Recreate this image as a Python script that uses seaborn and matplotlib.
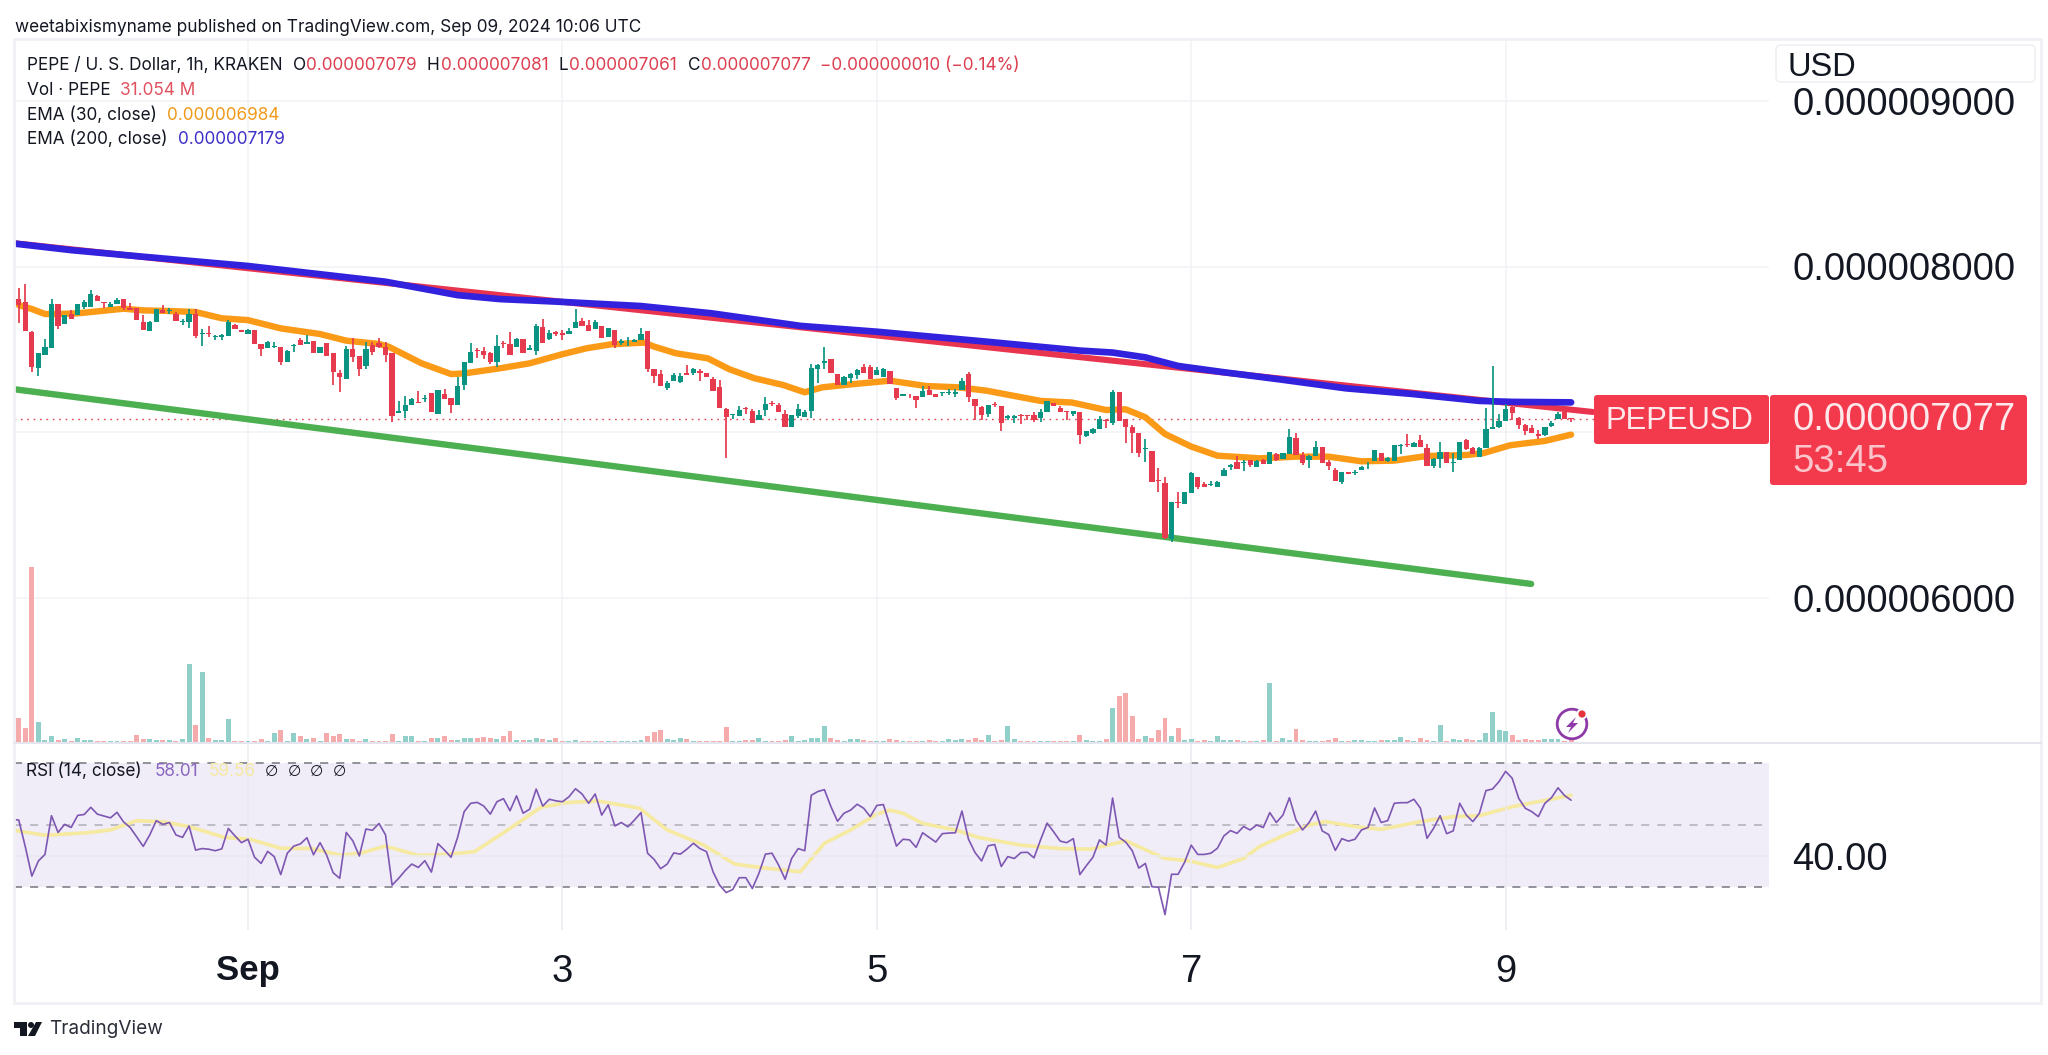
import numpy as np
import pandas as pd
import matplotlib
matplotlib.use("Agg")
import matplotlib.pyplot as plt
from matplotlib.patches import Circle, FancyBboxPatch, Polygon, Rectangle
import seaborn as sns

# ---- data: hourly candles, prices in 1e-9 USD; hour index 0 = 1 Sep 00:00 ----
first_hour = -36
open_ = [
7725,7805,7785,7605,7387,7465,7507,7771,7651,7715,
7705,7755,7757,7821,7785,7753,7771,7805,7751,7749,
7667,7611,7667,7739,7729,7713,7665,7665,7711,7593,
7599,7575,7571,7583,7649,7617,7591,7619,7529,7509,
7511,7515,7423,7521,7555,7531,7551,7475,7539,7475,
7355,7321,7503,7459,7399,7525,7535,7515,7479,7113,
7125,7165,7183,7199,7233,7111,7231,7205,7165,7283,
7415,7495,7491,7475,7425,7539,7529,7511,7561,7495,
7491,7633,7561,7605,7599,7595,7631,7669,7647,7623,
7643,7573,7619,7539,7535,7541,7555,7611,7379,7351,
7267,7309,7303,7355,7355,7369,7359,7319,7271,7141,
7103,7099,7143,7129,7075,7131,7175,7165,7111,7029,
7099,7093,7127,7383,7419,7439,7351,7287,7325,7347,
7391,7391,7347,7331,7369,7263,7219,7231,7219,7209,
7251,7231,7233,7235,7229,7251,7351,7199,7151,7111,
7171,7159,7087,7083,7103,7105,7105,7085,7123,7175,
7147,7125,7111,7123,6976,6992,7020,7072,7052,7242,
7076,7032,6994,6896,6888,6712,6692,6356,6578,6562,
6634,6728,6688,6680,6670,6732,6790,6820,6810,6828,
6786,6832,6808,6868,6838,6868,6966,6862,6828,6852,
6908,6818,6772,6696,6756,6750,6772,6804,6822,6876,
6822,6826,6918,6928,6910,6952,6906,6796,6836,6878,
6814,6828,6952,6902,6848,6904,7016,7028,7066,7152,
7086,7044,7022,6988,6980,7036,7080,7120,7079]
close = [
7801,7765,7609,7395,7479,7515,7775,7639,7705,7683,
7775,7783,7835,7789,7777,7771,7799,7751,7735,7675,
7619,7667,7741,7719,7739,7671,7671,7715,7579,7599,
7593,7581,7585,7665,7625,7605,7615,7531,7501,7541,
7521,7423,7491,7525,7525,7545,7479,7515,7459,7365,
7333,7503,7451,7379,7499,7485,7515,7465,7099,7127,
7163,7199,7175,7205,7119,7255,7201,7161,7279,7421,
7483,7491,7467,7425,7517,7529,7465,7561,7475,7505,
7639,7539,7601,7593,7589,7611,7665,7641,7611,7663,
7565,7631,7525,7549,7539,7557,7595,7379,7339,7275,
7299,7343,7339,7347,7379,7355,7331,7245,7143,7089,
7107,7135,7139,7055,7105,7167,7171,7119,7029,7101,
7139,7123,7385,7407,7427,7357,7285,7333,7351,7375,
7359,7323,7375,7379,7291,7203,7229,7227,7191,7249,
7221,7209,7239,7243,7241,7311,7211,7155,7105,7161,
7163,7057,7095,7095,7099,7099,7071,7123,7185,7159,
7123,7119,7125,6979,7004,7018,7076,7068,7244,7068,
7028,6996,6872,6902,6700,6706,6360,6576,6572,6636,
6752,6666,6670,6688,6700,6772,6800,6778,6820,6802,
6824,6808,6880,6828,6872,6970,6864,6812,6856,6912,
6812,6792,6702,6756,6744,6758,6788,6808,6892,6822,
6840,6920,6922,6920,6936,6908,6794,6836,6882,6812,
6820,6940,6896,6870,6906,7016,7028,7068,7136,7116,
7044,7008,6996,6978,7028,7056,7108,7080,7077]
high = [
7801,7871,7895,7609,7479,7559,7805,7771,7705,7735,
7775,7795,7859,7829,7785,7785,7809,7805,7779,7751,
7705,7671,7741,7765,7749,7725,7683,7745,7745,7625,
7641,7589,7595,7679,7655,7619,7623,7619,7529,7549,
7541,7515,7495,7529,7565,7585,7551,7515,7539,7475,
7375,7519,7569,7459,7545,7545,7565,7545,7479,7185,
7215,7205,7245,7225,7235,7255,7259,7205,7335,7425,
7539,7505,7511,7485,7585,7549,7603,7565,7561,7525,
7655,7681,7615,7611,7619,7629,7743,7691,7675,7679,
7643,7631,7619,7559,7571,7559,7631,7611,7379,7375,
7309,7355,7355,7403,7389,7379,7359,7331,7315,7143,
7109,7155,7151,7139,7135,7211,7185,7175,7131,7105,
7171,7131,7411,7411,7511,7439,7351,7339,7355,7379,
7411,7403,7395,7385,7369,7263,7231,7231,7219,7279,
7279,7231,7239,7259,7259,7329,7363,7199,7155,7163,
7179,7159,7105,7105,7107,7105,7119,7139,7189,7175,
7155,7125,7125,7123,7008,7022,7096,7076,7256,7242,
7076,7042,6994,6958,6888,6780,6728,6576,6636,6636,
6756,6728,6696,6704,6702,6782,6808,6852,6828,6832,
6828,6836,6882,6872,6876,7016,6996,6882,6862,6946,
6908,6828,6782,6760,6756,6772,6796,6816,6892,6876,
6848,6922,6928,6988,6938,6982,6926,6842,6942,6882,
6872,6942,6956,6908,6908,7142,7396,7108,7172,7162,
7088,7046,7042,7012,7032,7068,7122,7132,7081]
low = [
7725,7661,7609,7365,7341,7465,7507,7621,7651,7683,
7705,7745,7757,7789,7751,7753,7771,7735,7735,7675,
7619,7611,7667,7719,7711,7671,7645,7631,7565,7519,
7571,7555,7555,7583,7625,7605,7591,7531,7459,7509,
7507,7405,7423,7481,7525,7531,7479,7475,7459,7281,
7243,7321,7425,7339,7379,7463,7505,7425,7059,7113,
7085,7165,7175,7183,7119,7111,7201,7115,7165,7251,
7415,7445,7439,7411,7391,7509,7465,7511,7475,7495,
7463,7539,7555,7583,7555,7595,7631,7641,7611,7623,
7565,7573,7505,7525,7519,7541,7555,7363,7295,7275,
7255,7309,7295,7347,7347,7311,7331,7245,7143,6843,
7079,7099,7111,7055,7071,7099,7155,7119,7029,7029,
7085,7093,7085,7299,7383,7357,7285,7287,7299,7319,
7359,7323,7347,7331,7291,7191,7215,7205,7147,7209,
7221,7209,7215,7223,7211,7251,7183,7075,7071,7091,
7151,7005,7071,7055,7047,7075,7059,7059,7123,7159,
7123,7071,7099,6925,6972,6988,7020,7022,7042,7068,
6932,6876,6848,6816,6700,6636,6352,6336,6542,6562,
6634,6656,6670,6672,6670,6732,6772,6778,6766,6788,
6786,6808,6808,6826,6838,6868,6864,6800,6782,6852,
6812,6768,6702,6686,6744,6740,6768,6776,6822,6822,
6816,6822,6868,6908,6908,6908,6792,6782,6782,6812,
6756,6828,6892,6868,6848,6904,7016,7022,7066,7072,
7016,6984,6996,6956,6976,7028,7080,7076,7061]
volume_m = [
13,240,143,1753,203,20,60,20,30,13,
37,17,17,13,13,13,13,13,13,70,
30,30,20,20,20,13,30,780,167,700,
40,17,17,230,13,13,13,13,30,13,
93,117,13,87,60,33,43,13,87,63,
80,27,27,13,27,13,13,13,80,13,
57,63,13,13,37,37,57,17,20,37,
37,37,53,40,27,63,110,17,17,17,
37,30,17,43,13,10,17,13,13,13,
13,13,13,13,13,13,20,63,100,120,
27,20,37,27,13,13,13,13,13,150,
13,13,17,17,37,13,13,13,20,63,
13,20,37,37,160,40,20,10,27,27,
20,10,10,10,27,17,10,10,10,10,
20,10,10,27,23,27,17,40,17,70,
13,20,157,27,10,10,10,10,10,10,
10,10,10,70,20,10,13,30,340,460,
487,260,30,60,43,117,237,60,137,20,
33,10,17,10,60,20,20,17,10,10,
10,20,593,10,40,20,127,20,10,10,
10,17,37,10,10,20,17,13,13,20,
20,20,47,20,10,37,17,13,167,13,
33,20,27,17,17,93,303,120,113,73,
17,27,20,17,33,33,33,10,31]
rsi = [
51.8,51.6,43,33.5,38.4,40.5,53,47.6,50.2,49.2,
53.1,53.4,55.7,53.5,52.9,52.3,54.1,51,49.2,46.2,
43.1,46.8,51.4,50.2,50.8,46.8,46,49.7,41.9,42.4,
42.2,41.7,42.3,48.9,46.5,44.3,45.4,39.6,37.6,41.5,
39.8,34,40.9,43.2,43.9,45.9,40.4,44.3,40.3,34.6,
32.8,47.6,44.9,40,48.7,48.3,50.5,46.8,30.6,32.8,
35.3,37.4,36.3,38.5,34.8,44,41.9,39.6,46,54.3,
57,57.3,56.1,53.5,57.5,58.5,54.6,59.4,53.8,55.1,
61.6,56.1,58.3,57.8,57.5,59.1,61.7,60,57,60,
53.2,56.5,49.7,50.8,49.4,51.6,54,40.9,38.9,35.9,
37.4,41,40.6,42.2,44.1,42.4,41.4,34.9,30.6,28.2,
29.2,33,33,29.5,34.4,40.6,40.9,37.1,32.5,39.2,
42.4,41.7,59.6,60.8,61.4,55.9,51.2,53.8,54.8,56.7,
55.4,52.7,56.3,56.6,50,43.2,45.4,45.2,42.8,47.5,
46,44.5,47.2,47.4,47.5,54.5,45.4,41.1,38.4,43.3,
43.7,36.6,39.8,39.2,41.1,41.2,39.4,45.2,50.6,47.8,
44.8,44.3,45.6,34,36.9,39.6,45.2,43.5,58.7,46,
44.5,41.7,36.1,37.6,30.1,29.9,21.1,34.1,34.1,38,
43.5,40.5,40.5,40.9,42.5,46.5,48.2,47.3,49.5,48.4,
50,49.2,54,50.8,53.2,58.8,51.6,48.4,50.8,54.5,
48.1,46.9,41.8,45.6,44.8,45.4,48.4,49.2,55.5,50.8,
51.4,57,57.2,57.2,58.3,55.4,45.7,48.9,53,47.2,
48.1,57,53.2,51.1,53.8,61.1,61.6,64,67.3,65.1,
58.6,55.4,54.3,52.7,57,58.8,62,59.5,58]

ema200_h = [-36,-27,-16,0,21,32,38.5,47,60,70.8,84.4,96,112.7,127,132,137,142,149,157.5,167.6,177.7,188,193,202]
ema200_p = [8140,8099,8059,8003,7908,7827,7803,7788,7761,7717,7641,7606,7546,7492,7480,7451,7399,7361,7318,7264,7230,7188,7182,7179]
ema30_h = [-35,-33,-31,-29,-26,-21.5,-19,-16,-12,-8,-4,0,5,11,15,20,21.5,26.5,31,33,38.5,43,47.9,51.7,55.5,60.5,62,65.3,70.2,73.5,77.3,81.7,85,87.7,92.6,98,103.5,108.4,112.7,121,125.8,131,134,137,140,144,148,154.5,160,165,170,175,180,186,188.6,192.7,198,202]
ema30_p = [7767,7743,7713,7713,7717,7735,7745,7735,7731,7725,7687,7676,7626,7592,7552,7532,7515,7415,7350,7354,7385,7415,7469,7506,7530,7540,7516,7476,7445,7379,7325,7284,7240,7270,7290,7310,7278,7270,7250,7188,7178,7133,7137,7089,6988,6912,6857,6841,6851,6851,6823,6827,6855,6861,6872,6920,6946,6984]
rsi_ma_h = [-36,-31,-24.5,-21,-17,-13,-9,-3.6,0.3,5,9.7,14.3,17.5,21,26,30.7,34.6,40,44.7,48.6,53.3,59.8,64,69.6,74.3,79,84.3,88,92,96,98,100,103,108,111.5,118,124,128.7,134,140,143.5,148,152,154.4,158,162,164.5,169,173,179,184,188,193,196.4,202]
rsi_ma_v = [48.4,46.7,47.5,48.4,51.4,51,49.5,46,45.4,42.5,42.4,40.2,41.1,43.2,40.2,40.6,41.4,48.9,55.7,57.2,57.8,55.4,48.4,43.5,37.4,36.1,34.9,44.1,48.4,53.5,54.8,53.8,50.5,48.4,46,43.5,42.4,42.2,44.9,39.2,38.5,36.3,39.2,43,46.5,50,51.1,49.5,48.6,51.1,52.7,53,55.9,57.3,59.56]
red_line_h = [-36, 205.3]
red_line_p = [8142, 7121]
green_line_h = [-36, 195.9]
green_line_p = [7260, 6082]
last_price = 7077

price_ticks = [6000, 7000, 8000, 9000]
price_labels = ["0.000006000", "", "0.000008000", "0.000009000"]
time_ticks = [0, 48, 96, 144, 192]
time_labels = ["Sep", "3", "5", "7", "9"]
rsi_ticks = [40]
rsi_labels = ["40.00"]

UP, DOWN = "#0b9482", "#e63a4e"
UP_V, DOWN_V = "#90d0c8", "#f5abab"
INK = "#131722"
GRID = "#f1f2f5"

sns.set_theme(style="white")
plt.rcParams["font.family"] = ["Liberation Sans", "DejaVu Sans"]
plt.rcParams["lines.scale_dashes"] = False

W, H = 2048, 1055
fig = plt.figure(figsize=(W / 100, H / 100), dpi=100, facecolor="white")

def box(x0, y0, x1, y1, **kw):
    return fig.add_axes([x0 / W, 1 - y1 / H, (x1 - x0) / W, (y1 - y0) / H], **kw)

hours = np.arange(first_hour, first_hour + len(close))
df = pd.DataFrame({"h": hours, "o": open_, "c": close, "hi": high, "lo": low, "v": volume_m, "rsi": rsi})
df["dir"] = np.where(df.c >= df.o, "up", "down")

PX_PER_H = 6.55
X0 = 248
xlim = ((14 - X0) / PX_PER_H, (1769 - X0) / PX_PER_H)

# ---- main price pane ----
ax = box(14, 39, 1769, 743)
ax.set_facecolor("none")
ax.set_xlim(*xlim)
ax.set_ylim(7000 - (743 - 432) / 0.1655, 7000 + (432 - 39) / 0.1655)
ax.set_yticks(price_ticks, price_labels, fontsize=27.5, color=INK, ha="left")
ax.yaxis.tick_right()
ax.tick_params(axis="y", length=0, pad=17)
ax.set_xticks(time_ticks, [])
ax.tick_params(axis="x", length=0)
ax.grid(True, color=GRID, lw=1.1)
ax.set_axisbelow(True)
for s in ax.spines.values():
    s.set_visible(False)

ax.plot([xlim[0], (1594 - X0) / PX_PER_H], [last_price, last_price], color="#dd4455", lw=1.0,
        ls=(0, (1.2, 3.4)), zorder=1.5)
sns.lineplot(x=green_line_h, y=green_line_p, ax=ax, color="#4caf50", lw=4.6, estimator=None, errorbar=None,
             solid_capstyle="round", zorder=2)
sns.lineplot(x=ema30_h, y=ema30_p, ax=ax, color="#fb9a16", lw=4.6, estimator=None, errorbar=None,
             solid_capstyle="round", solid_joinstyle="round", zorder=2)
sns.lineplot(x=red_line_h, y=red_line_p, ax=ax, color="#e8344f", lw=4.4, estimator=None, errorbar=None,
             solid_capstyle="round", zorder=2.1)
sns.lineplot(x=ema200_h, y=ema200_p, ax=ax, color="#3322dd", lw=4.8, estimator=None, errorbar=None,
             solid_capstyle="round", solid_joinstyle="round", zorder=2.2)

colors = np.where(df.c >= df.o, UP, DOWN)
ax.vlines(df.h, df.lo, df.hi, colors=colors, lw=1.25, zorder=3)
ax.bar(df.h, np.maximum(np.abs(df.c - df.o), 5), bottom=np.minimum(df.o, df.c), width=0.8,
       color=colors, linewidth=0, zorder=3.1)
ax.set_xlim(*xlim)

# ---- volume, on its own scale in the lower part of the price pane ----
axv = box(14, 39, 1769, 743)
axv.patch.set_visible(False)
sns.barplot(data=df, x="h", y="v", hue="dir", hue_order=["up", "down"], palette={"up": UP_V, "down": DOWN_V},
            native_scale=True, dodge=False, width=0.76, saturation=1, legend=False, linewidth=0, ax=axv)
axv.set_xlim(*xlim)
axv.set_ylim(-10, 7040)
axv.set_xlabel("")
axv.set_ylabel("")
axv.set_xticks([])
axv.set_yticks([])
for s in axv.spines.values():
    s.set_visible(False)

# ---- RSI pane ----
RSI_R = 1769
axr = box(14, 743, RSI_R, 930)
axr.set_facecolor("none")
axr.set_xlim(xlim[0], (RSI_R - X0) / PX_PER_H)
axr.set_ylim(50 - (930 - 825) / 3.1, 50 + (825 - 743) / 3.1)
axr.axhspan(30, 70, color="#f0ecf8", lw=0, zorder=0.5)
axr.set_xticks(time_ticks, time_labels, fontsize=27.5, color=INK)
axr.get_xticklabels()[0].set_fontweight("bold")
axr.get_xticklabels()[0].set_fontsize(25)
axr.set_yticks(rsi_ticks, rsi_labels, fontsize=27.5, color=INK, ha="left")
axr.yaxis.tick_right()
axr.tick_params(axis="y", length=0, pad=17)
axr.tick_params(axis="x", length=0, pad=17)
axr.grid(True, color="#e9e9f0", lw=1.1, zorder=0.6)
axr.set_axisbelow(False)
for s in axr.spines.values():
    s.set_visible(False)
for lvl, col in [(70, "#808089"), (50, "#b4b3bb"), (30, "#808089")]:
    axr.axhline(lvl, color=col, lw=1.2, ls=(0, (5.8, 5.8)), zorder=1)
sns.lineplot(x=rsi_ma_h, y=rsi_ma_v, ax=axr, color="#f6e9a0", lw=2.6, estimator=None, errorbar=None, zorder=2)
sns.lineplot(data=df, x="h", y="rsi", ax=axr, color="#7e57b2", lw=1.2, estimator=None, errorbar=None, zorder=3)
axr.set_xlabel("")
axr.set_ylabel("")
axr.set_xlim(xlim[0], (RSI_R - X0) / PX_PER_H)

# ---- overlay in image pixels for the frame, legends and tags ----
ov = fig.add_axes([0, 0, 1, 1], zorder=10)
ov.set_xlim(0, W)
ov.set_ylim(H, 0)
ov.axis("off")

FR = "#f0f1f4"
ov.add_patch(Rectangle((14, 39), 2041 - 14, 1003 - 39, fill=False, ec=FR, lw=2))
ov.plot([14, 2041], [743, 743], color="#e4e5ee", lw=1.5)

def t(x, y, s, color=INK, size=12.4, family="Inter", **kw):
    kw.setdefault("va", "center")
    kw.setdefault("ha", "left")
    ov.text(x, y, s, color=color, fontsize=size, family=[family, "DejaVu Sans"], **kw)

t(15, 27, "weetabixismyname published on TradingView.com, Sep 09, 2024 10:06 UTC")
t(27, 65.5, "PEPE / U. S. Dollar, 1h, KRAKEN")
RED_T = "#dc3f50"
for x, s in [(293, "O"), (427, "H"), (559, "L"), (688, "C")]:
    t(x, 65.5, s)
for x, s in [(306, "0.000007079"), (440.5, "0.000007081"), (569, "0.000007061"), (700.7, "0.000007077"),
             (820, "\u22120.000000010 (\u22120.14%)")]:
    t(x, 65.5, s, RED_T)
t(27, 90.5, "Vol \u00b7 PEPE")
t(120, 90.5, "31.054 M", "#e0525f")
t(27, 115.5, "EMA (30, close)")
t(167, 115.5, "0.000006984", "#f09a1a")
t(27, 139.5, "EMA (200, close)")
t(178, 139.5, "0.000007179", "#3d30c8")
t(26.5, 771.5, "RSI (14, close)")
t(154.6, 771.5, "58.01", "#8a66c0")
t(209, 771.5, "59.56", "#f6e9a0")
for x in [271, 294, 316, 339]:
    t(x, 771.5, "\u2205", size=11, ha="center", family="DejaVu Sans")

# USD box
ov.add_patch(FancyBboxPatch((1779, 48), 253, 31, boxstyle="round,pad=3,rounding_size=5", fc="white", ec="#eef0f3", lw=1.2))
t(1787, 67, "USD", size=23.5, family="Liberation Sans")

# price tags
TAG = "#f23a4c"
ov.add_patch(FancyBboxPatch((1596, 397), 171, 45, boxstyle="round,pad=2,rounding_size=3", fc=TAG, ec="none"))
ov.add_patch(FancyBboxPatch((1772, 397), 253, 86, boxstyle="round,pad=2,rounding_size=3", fc=TAG, ec="none"))
t(1606, 421, "PEPEUSD", "#fde9eb", size=22.3, family="Liberation Sans")
t(1792, 420, "0.000007077", "#fde9eb", size=27.5, family="Liberation Sans")
t(1792, 462, "53:45", "#fbc4ca", size=27.5, family="Liberation Sans")

# alert icon
ov.add_patch(Circle((1572, 724), 14.8, fill=False, ec="#8e3aa8", lw=2.0))
ov.add_patch(Circle((1582, 714), 5.5, fc="white", ec="none"))
ov.add_patch(Circle((1582, 714), 3.6, fc="#e5343f", ec="none"))
ov.add_patch(Polygon([(1576, 717), (1566, 727), (1571, 727), (1568, 733), (1578, 723), (1573, 723)], fc="#8e3aa8", ec="none"))

# TradingView mark
ov.add_patch(Polygon([(14, 1022), (27, 1022), (27, 1036), (20, 1036), (20, 1028), (14, 1028)], fc=INK, ec="none"))
ov.add_patch(Circle((31, 1025), 3, fc=INK, ec="none"))
ov.add_patch(Polygon([(42, 1022), (36, 1022), (28, 1036), (35, 1036)], fc=INK, ec="none"))
t(49, 1029, "TradingView", "#2a2e39", size=13.7)

fig.savefig("out.png", dpi=100, facecolor="white")
